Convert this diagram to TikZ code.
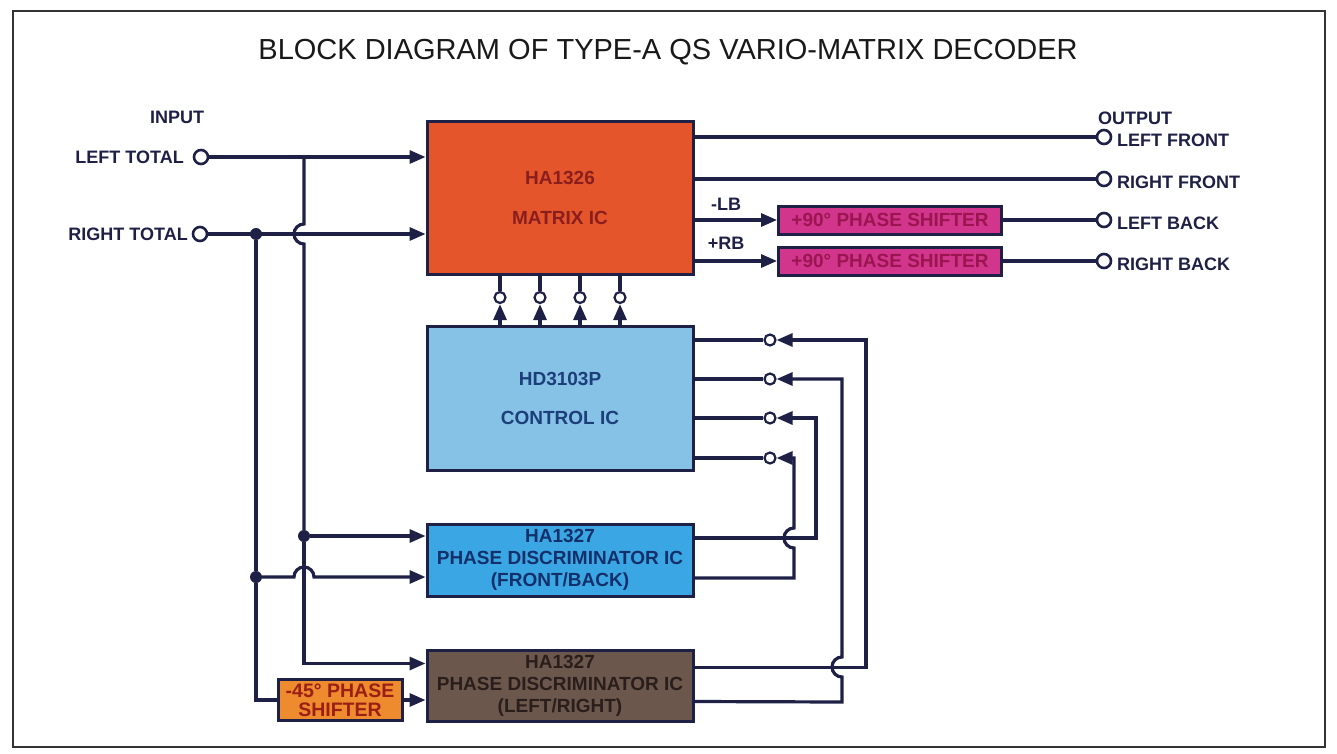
\documentclass[tikz,border=0pt]{standalone}
\usepackage{fontspec}
\setmainfont{Liberation Sans}
\usetikzlibrary{arrows.meta}

\definecolor{ink}{HTML}{1E2046}
\definecolor{mtxfill}{HTML}{E5552B}
\definecolor{mtxtext}{HTML}{8A1E1E}
\definecolor{psfill}{HTML}{D2358C}
\definecolor{pstext}{HTML}{9B1550}
\definecolor{ctlfill}{HTML}{86C1E6}
\definecolor{ctltext}{HTML}{1C3E7A}
\definecolor{fbfill}{HTML}{3AA6E3}
\definecolor{fbtext}{HTML}{13306B}
\definecolor{lrfill}{HTML}{6B574B}
\definecolor{lrtext}{HTML}{2A1E1C}
\definecolor{nsfill}{HTML}{EE8B2E}
\definecolor{nstext}{HTML}{9C1F16}

\begin{document}
\begin{tikzpicture}[x=1pt,y=-1pt,>={Triangle[length=16pt,width=13pt]}]

        % Styles
        \tikzset{
          blk/.style={draw=ink,line width=3pt,minimum width=266pt,
                      inner sep=0pt,align=center,
                      font=\bfseries\fontsize{19}{22}\selectfont},
          term/.style={circle,draw=ink,fill=white,line width=2.6pt,
                       minimum size=14pt,inner sep=0pt},
          pin/.style={circle,draw=ink,fill=white,line width=2.2pt,
                      minimum size=11pt,inner sep=0pt},
          dot/.style={circle,fill=ink,minimum size=12pt,inner sep=0pt},
          lbl/.style={font=\bfseries\fontsize{18}{20}\selectfont,
                      text=ink,inner sep=0pt},
          ln/.style={draw=ink,line width=3.2pt}
        }

        % page and frame
        \fill[white] (0,0) rectangle (1337,754);
        \useasboundingbox (0,0) rectangle (1337,754);
        \draw[line width=2.2pt,color=black!80] (13,11) rectangle (1325,747);

        \node[font=\fontsize{29}{31}\selectfont,text=black!90] (title) at (668,52)
          {BLOCK DIAGRAM OF TYPE-A QS VARIO-MATRIX DECODER};

        % y-coordinates for the two inputs
        \def\yLT{157}
        \def\yRT{234}

        %-------------------------------
        % Blocks
        %-------------------------------
        \node[blk,fill=mtxfill,text=mtxtext,minimum height=152pt] (mtx) at (560,198)
          {HA1326\\[18pt]MATRIX IC};
        \node[blk,fill=ctlfill,text=ctltext,minimum height=144pt] (ctrl) at (560,398)
          {HD3103P\\[17pt]CONTROL IC};
        \node[blk,fill=fbfill,text=fbtext,minimum height=72pt] (pdfb) at (560,560)
          {HA1327\\PHASE DISCRIMINATOR IC\\(FRONT/BACK)};
        \node[blk,fill=lrfill,text=lrtext,minimum height=71pt] (pdlr) at (560,685.5)
          {HA1327\\PHASE DISCRIMINATOR IC\\(LEFT/RIGHT)};
        \node[blk,fill=nsfill,text=nstext,minimum width=124pt,minimum height=41pt,
              font=\bfseries\fontsize{19.5}{19}\selectfont] (ps45) at (340,700)
          {-45° PHASE\\SHIFTER};
        \node[blk,fill=psfill,text=pstext,minimum width=223pt,minimum height=28pt,
              font=\bfseries\fontsize{19}{20}\selectfont] (psLB) at (890,220)
          {+90° PHASE SHIFTER};
        \node[blk,fill=psfill,text=pstext,minimum width=223pt,minimum height=28pt,
              font=\bfseries\fontsize{19}{20}\selectfont] (psRB) at (890,261)
          {+90° PHASE SHIFTER};

        %-------------------------------
        % Inputs
        %-------------------------------
        \node[lbl] (inlbl) at (177,117) {INPUT};
        \node[term] (inL) at (201,\yLT) {};
        \node[term] (inR) at (200,\yRT) {};
        \node[lbl,anchor=east] (inLlbl) at (184,\yLT) {LEFT TOTAL};
        \node[lbl,anchor=east] (inRlbl) at (188,\yRT) {RIGHT TOTAL};

        \draw[ln,->] (inL) -- ([yshift=41pt]mtx.west);
        \draw[ln,->] (inR) -- ([yshift=-36pt]mtx.west);

        % junctions
        \coordinate (tL) at (304,\yLT);
        \node[dot] (jR) at (256,\yRT) {};
        \node[dot] (jF) at (304,536) {};
        \node[dot] (jB) at (256,577) {};

        % left total down to both discriminators (hops over right total)
        \draw[ln] (tL) -- (304,224) arc[start angle=90,end angle=270,radius=10pt] -- (jF);
        \draw[ln,->] (jF) -- ([yshift=24pt]pdfb.west);
        \draw[ln,->] (jF) |- ([yshift=22pt]pdlr.west);

        % right total down to front/back and -45 shifter
        \draw[ln] (jR) -- (jB);
        \draw[ln] (jB) |- (ps45.west);
        \draw[ln,->] (jB) -- (294,577) arc[start angle=180,end angle=0,radius=10pt]
          -- ([yshift=-17pt]pdfb.west);
        \draw[ln,->] (ps45.east) -- (ps45.east -| pdlr.west);

        %-------------------------------
        % Matrix to control links
        %-------------------------------
        \foreach \dx [count=\i] in {-60,-20,20,60} {
          \node[pin] (p\i) at ([xshift=\dx pt,yshift=-22pt]mtx.south) {};
          \draw[ln] ([xshift=\dx pt]mtx.south) -- (p\i);
          \draw[ln,->] ([xshift=\dx pt]ctrl.north) -- (p\i);
        }

        %-------------------------------
        % Control inputs (switches) and returns
        %-------------------------------
        \foreach \y/\xr [count=\i] in {340/866,379/842,418/816,458/794} {
          \node[pin] (s\i) at (770,\y) {};
          \draw[ln] (ctrl.east |- s\i) -- (s\i);
        }

        \draw[ln,->] ([yshift=18pt]pdlr.east) -| (866,340) -- (s1);
        \draw[ln,->] ([yshift=-16pt]pdlr.east) -- (842,702) -- (842,677)
          arc[start angle=270,end angle=90,radius=10pt] -- (842,379) -- (s2);
        \draw[ln,->] ([yshift=22pt]pdfb.east) -| (816,418) -- (s3);
        \draw[ln,->] ([yshift=-18pt]pdfb.east) -- (794,578) -- (794,548)
          arc[start angle=270,end angle=90,radius=10pt] -- (794,458) -- (s4);

        %-------------------------------
        % Outputs
        %-------------------------------
        \node[term] (oLF) at (1104,137) {};
        \node[term] (oRF) at (1104,179) {};
        \node[term] (oLB) at (1104,220) {};
        \node[term] (oRB) at (1104,261) {};

        \draw[ln] (oLF -| mtx.east) -- (oLF);
        \draw[ln] (oRF -| mtx.east) -- (oRF);
        \draw[ln,->] (psLB -| mtx.east) -- (psLB.west);
        \draw[ln,->] (psRB -| mtx.east) -- (psRB.west);
        \draw[ln] (psLB) -- (oLB);
        \draw[ln] (psRB) -- (oRB);

        \node[lbl] (lb) at (726,204) {-LB};
        \node[lbl] (rb) at (726,243) {+RB};

        \node[lbl,anchor=west] (outlbl) at (1098,118) {OUTPUT};
        \node[lbl,anchor=west] (lLF) at (1117,140) {LEFT FRONT};
        \node[lbl,anchor=west] (lRF) at (1117,182) {RIGHT FRONT};
        \node[lbl,anchor=west] (lLB) at (1117,223) {LEFT BACK};
        \node[lbl,anchor=west] (lRB) at (1117,264) {RIGHT BACK};

    \end{tikzpicture}
\end{document}
